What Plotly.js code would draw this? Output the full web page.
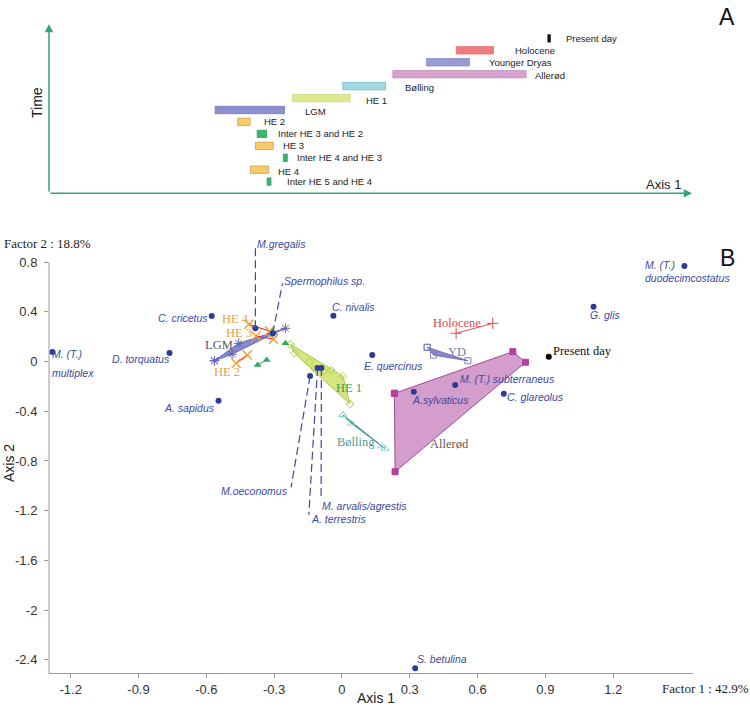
<!DOCTYPE html>
<html><head><meta charset="utf-8">
<script src="https://cdn.plot.ly/plotly-3.0.1.min.js"></script>
<style>html,body{margin:0;padding:0;background:#fff}#chart{width:750px;height:707px}</style>
</head><body><div id="chart"></div>
<script>
// ---------- Panel A : ranges of each period along Axis 1 ----------
const periods = ['Present day','Holocene','Younger Dryas','Allerød','Bølling','HE 1','LGM','HE 2',
  'Inter HE 3 and HE 2','HE 3','Inter HE 4 and HE 3','HE 4','Inter HE 5 and HE 4'];
const periodStart = [0.911, 0.506, 0.374, 0.225, 0.004, -0.218, -0.561, -0.461, -0.375, -0.383, -0.259, -0.405, -0.331];
const periodEnd   = [0.922, 0.670, 0.564, 0.815, 0.193, 0.036, -0.254, -0.406, -0.333, -0.304, -0.242, -0.324, -0.314];

// ---------- Panel B : species coordinates ----------
const species = ['M. (T.) multiplex','D. torquatus','C. cricetus','A. sapidus','M.gregalis','Spermophilus sp.',
  'C. nivalis','E. quercinus','M.oeconomus','A. terrestris','M. arvalis/agrestis','A.sylvaticus',
  'M. (T.) subterraneus','C. glareolus','G. glis','M. (T.) duodecimcostatus','S. betulina'];
const speciesX = [-1.281,-0.763,-0.576,-0.546,-0.383,-0.306,-0.038,0.134,-0.141,-0.108,-0.091,0.318,0.501,0.716,1.113,1.515,0.324];
const speciesY = [0.076,0.068,0.366,-0.315,0.267,0.227,0.368,0.052,-0.117,-0.052,-0.052,-0.243,-0.189,-0.259,0.441,0.768,-2.468];
const presentX = [0.915];
const presentY = [0.039];

// ---------- Panel B : period samples ----------
const lgmX = [-0.564,-0.486,-0.306,-0.250,-0.457];
const lgmY = [0.006,0.058,0.221,0.267,0.146];
const he1HullX = [-0.228,0.004,0.036,-0.210];
const he1HullY = [0.138,-0.117,-0.342,0.066];
const he1InnerX = [-0.144,-0.122,-0.082,-0.048];
const he1InnerY = [-0.002,-0.055,-0.076,-0.068];
const bollingX = [0.004,0.041,0.190,0.176];
const bollingY = [-0.430,-0.497,-0.700,-0.680];
const allerodX = [0.232,0.756,0.812,0.235];
const allerodY = [-0.256,0.079,-0.006,-0.887];
const ydX = [0.377,0.557,0.405];
const ydY = [0.114,0.006,0.052];
const holoceneX = [0.505,0.667];
const holoceneY = [0.227,0.307];
const he4X = [-0.412,-0.321]; const he4Y = [0.299,0.245];
const he3X = [-0.380,-0.303]; const he3Y = [0.205,0.179];
const he2X = [-0.419,-0.468]; const he2Y = [0.052,-0.014];
const inter32X = [-0.373,-0.333]; const inter32Y = [-0.028,0.012];
const inter43X = [-0.250]; const inter43Y = [0.146];
const inter54X = [-0.306]; const inter54Y = [0.240];

// ---------- ticks ----------
const xTicks = [-1.2,-0.9,-0.6,-0.3,0,0.3,0.6,0.9,1.2];
const xTickText = ['-1.2','-0.9','-0.6','-0.3','0','0.3','0.6','0.9','1.2'];
const yTicks = [0.8,0.4,0,-0.4,-0.8,-1.2,-1.6,-2,-2.4];
const yTickText = ['0.8','0.4','0','-0.4','-0.8','-1.2','-1.6','-2','-2.4'];

// ---------- styles ----------
const SANS = 'Liberation Sans, Arial, sans-serif';
const SERIF = 'Liberation Serif, Times New Roman, serif';
const barFill = ['#111111','#ef7d7d','#9b9bd3','#d8a2ce','#a2d9e4','#dfe98f','#8e8dcd','#f7cb6b',
  '#3cb46e','#f7cb6b','#3cb46e','#f7cb6b','#3cb46e'];
const barLine = ['#111111','#e07070','#8a8ac4','#c690bd','#74b8c8','#c9d67a','#7a79bd','#c9a04c',
  '#2e9a5c','#c9a04c','#2e9a5c','#c9a04c','#2e9a5c'];
const labelGap = [16,22,20,9,19,16,20,14,11,10,10,9,16];
const labelDrop = [0,0,0,1,1,2,1.5,0,0,0,0,2,0];
const speciesColor = '#2e3b94';
const speciesTextColor = '#3a4aa2';
// label placement relative to the dot, in pixels (dy positive = downward)
const labelStyle = {
  'M. (T.) multiplex': {a:'left', dx:-1, dy:2, split:true, dy2:20.7},
  'D. torquatus': {a:'right', dx:2, dy:6},
  'C. cricetus': {a:'right', dx:-3, dy:2},
  'A. sapidus': {a:'right', dx:-3, dy:7.5},
  'M.gregalis': {a:'left', dx:1, dy:-84.3, lead:[0,-80]},
  'Spermophilus sp.': {a:'left', dx:10.5, dy:-52.3, lead:[9.7,-50]},
  'C. nivalis': {a:'left', dx:-2.5, dy:-8.4},
  'E. quercinus': {a:'left', dx:-9.5, dy:11},
  'M.oeconomus': {a:'right', dx:-21, dy:114.7, lead:[-19,111.3]},
  'A. terrestris': {a:'left', dx:-7.5, dy:151, lead:[-8.7,147]},
  'M. arvalis/agrestis': {a:'left', dx:-0.5, dy:138, lead:[-0.3,132]},
  'A.sylvaticus': {a:'left', dx:-3, dy:8.3},
  'M. (T.) subterraneus': {a:'left', dx:4, dy:-5.7},
  'C. glareolus': {a:'left', dx:2.2, dy:3.6},
  'G. glis': {a:'left', dx:-5, dy:8.3},
  'M. (T.) duodecimcostatus': {a:'left', dx:-40, dy:-1, split:true, dy2:11.7},
  'S. betulina': {a:'left', dx:1, dy:-9.3}
};
const periodLabels = [
  {t:'LGM', x:-0.543, y:0.133, c:'#55556a'},
  {t:'HE 4', x:-0.471, y:0.339, c:'#e3a24a'},
  {t:'HE 3', x:-0.454, y:0.227, c:'#e3a24a'},
  {t:'HE 2', x:-0.509, y:-0.082, c:'#e3a24a'},
  {t:'HE 1', x:0.029, y:-0.213, c:'#3a9e4e'},
  {t:'Bølling', x:0.063, y:-0.650, c:'#4d9c9c'},
  {t:'Allerød', x:0.476, y:-0.664, c:'#6a5656'},
  {t:'YD', x:0.509, y:0.079, c:'#7a7aa6'},
  {t:'Holocene', x:0.510, y:0.312, c:'#e04848'}
];

const W = 750, H = 707;
const px = v => v / W;
const py = v => 1 - v / H;
const close = a => a.concat([a[0]]);

const traces = [];
// Panel A bars
traces.push({
  type:'bar', orientation:'h', xaxis:'x2', yaxis:'y2',
  y: periods.map((_, i) => i),
  x: periodEnd.map((e, i) => e - periodStart[i]),
  base: periodStart,
  width: 0.62,
  marker:{color: barFill, line:{color: barLine, width: 0.8}},
  hoverinfo:'skip'
});

function poly(x, y, fill, line, sym, msize, mcol, mfill) {
  return {type:'scatter', x: close(x), y: close(y), mode:'lines+markers', fill:'toself',
    fillcolor: fill, line:{color: line, width: 1},
    marker:{symbol: sym, size: msize, color: mfill || mcol, line:{color: mcol, width: 1}},
    hoverinfo:'skip'};
}
traces.push(poly(lgmX, lgmY, 'rgba(128,128,200,0.92)', '#6a6ab5', 'asterisk-open', 8, '#6262b6'));
traces.push(poly(he1HullX, he1HullY, '#d7e57f', '#a9c94f', 'diamond-open', 6, '#b2d158'));
traces.push({type:'scatter', x: he1InnerX, y: he1InnerY, mode:'markers',
  marker:{symbol:'diamond-open', size:6, color:'#b2d158', line:{color:'#b2d158', width:1}}, hoverinfo:'skip'});
traces.push(poly(bollingX, bollingY, '#5aa8a8', '#3e9696', 'triangle-up-open', 7, '#8fd3d3'));
traces.push(poly(allerodX, allerodY, '#d49dcc', '#a04c94', 'square', 6, '#b3409f'));
traces.push(poly(ydX, ydY, '#8a8acc', '#6c6cb0', 'square-open', 6, '#7f7fbf'));
traces.push({type:'scatter', x: holoceneX, y: holoceneY, mode:'lines+markers',
  line:{color:'#e05050', width:1},
  marker:{symbol:'cross-thin-open', size:8, color:'#e05050', line:{color:'#e05050', width:1}}, hoverinfo:'skip'});
[[he4X,he4Y],[he3X,he3Y],[he2X,he2Y]].forEach(([x,y]) => traces.push({type:'scatter', x, y,
  mode:'lines+markers', line:{color:'#e23232', width:1.2},
  marker:{symbol:'x-thin-open', size:9, color:'#f0a030', line:{color:'#f0a030', width:1.5}}, hoverinfo:'skip'}));
[[inter32X,inter32Y],[inter43X,inter43Y],[inter54X,inter54Y]].forEach(([x,y]) => traces.push({type:'scatter', x, y,
  mode:'lines+markers', line:{color:'#2eaa5e', width:1},
  marker:{symbol:'triangle-up', size:7, color:'#2eaa5e'}, hoverinfo:'skip'}));
traces.push({type:'scatter', x: speciesX, y: speciesY, mode:'markers',
  marker:{size:6, color: speciesColor}, hoverinfo:'skip'});
traces.push({type:'scatter', x: presentX, y: presentY, mode:'markers',
  marker:{size:6, color:'#000'}, hoverinfo:'skip'});

const annotations = [];
const shapes = [];
function paperText(x, y, text, font, extra) {
  return Object.assign({xref:'paper', yref:'paper', x: px(x), y: py(y), text, showarrow:false,
    xanchor:'center', yanchor:'middle', font}, extra || {});
}

// Panel A labels
periods.forEach((p, i) => annotations.push({xref:'x2', yref:'y2', x: periodEnd[i], y: i,
  xanchor:'left', yanchor:'middle', xshift: labelGap[i] - 2, yshift: -labelDrop[i], showarrow:false,
  text: p, font:{family: SANS, size: 9.5, color:'#222'}}));
// Panel A arrows
annotations.push({xref:'paper', yref:'paper', x: px(49), y: py(24), ax: 0, ay: 169, text:'',
  showarrow:true, arrowhead:2, arrowsize:1.1, arrowwidth:1.5, arrowcolor:'#35a07f', standoff:0, startstandoff:0});
annotations.push({xref:'paper', yref:'paper', x: px(692), y: py(193.3), ax: -643, ay: 0, text:'',
  showarrow:true, arrowhead:2, arrowsize:1.1, arrowwidth:1.5, arrowcolor:'#35a07f', standoff:0, startstandoff:0});
annotations.push(paperText(37, 103, 'Time', {family: SANS, size: 14, color:'#222'}, {textangle:-90}));
annotations.push(paperText(663, 184, 'Axis 1', {family: SANS, size: 13, color:'#222'}));
annotations.push(paperText(727, 17, 'A', {family: SANS, size: 23, color:'#111'}));
annotations.push(paperText(727, 258, 'B', {family: SANS, size: 23, color:'#111'}));

// Panel B axis labels
annotations.push(paperText(2, 244, 'Factor 2 : 18.8%', {family: SERIF, size: 13, color:'#222'}, {xanchor:'left'}));
annotations.push(paperText(660, 688, 'Factor 1 : 42.9%', {family: SERIF, size: 13, color:'#222'}, {xanchor:'left'}));
annotations.push(paperText(376, 698, 'Axis 1', {family: SANS, size: 14, color:'#222'}));
annotations.push(paperText(9, 463, 'Axis 2', {family: SANS, size: 14, color:'#222'}, {textangle:-90}));

// species labels and leaders
species.forEach((s, i) => {
  const st = labelStyle[s];
  const lines = st.split ? [s.slice(0, 7), s.slice(8)] : [s];
  const dys = st.split ? [st.dy, st.dy2] : [st.dy];
  lines.forEach((t, k) => annotations.push({xref:'x', yref:'y', x: speciesX[i], y: speciesY[i],
    xanchor: st.a, yanchor:'middle', xshift: st.dx, yshift: -dys[k], showarrow:false, text: t,
    borderpad:0, font:{family: SANS, size: 10.5, color: speciesTextColor, style:'italic'}}));
  if (st.lead) shapes.push({type:'line', xref:'x', yref:'y', xsizemode:'pixel', ysizemode:'pixel',
    xanchor: speciesX[i], yanchor: speciesY[i], x0: 0, y0: 0, x1: st.lead[0], y1: -st.lead[1],
    line:{color:'#3a4aa2', width:1.2, dash:'8px,4px'}});
});
// period labels
periodLabels.forEach(l => annotations.push({xref:'x', yref:'y', x: l.x, y: l.y, text: l.t, showarrow:false,
  xanchor:'center', yanchor:'middle', font:{family: SERIF, size: 12.5, color: l.c}}));
annotations.push({xref:'x', yref:'y', x: presentX[0], y: presentY[0], xanchor:'left', yanchor:'middle',
  xshift: 2, yshift: 6, text:'Present day', showarrow:false, font:{family: SERIF, size: 12.5, color:'#111'}});

// y axis line (stops at 0.8)
const XDOM = [px(49), px(693)];
const XRANGE = [-1.296, 1.553];
const YRANGE = [-2.506, 0.95];
shapes.push({type:'line', xref:'paper', yref:'y', x0: XDOM[0], x1: XDOM[0], y0: YRANGE[0], y1: 0.8,
  line:{color:'#9a9a9a', width:1}});

const layout = {
  width: W, height: H, margin:{l:0, r:0, t:0, b:0},
  paper_bgcolor:'#fff', plot_bgcolor:'rgba(0,0,0,0)',
  showlegend:false, hovermode:false, barmode:'overlay',
  xaxis:{domain: XDOM, range: XRANGE, anchor:'y', showline:true, linecolor:'#9a9a9a', linewidth:1,
    ticks:'outside', ticklen:4, tickcolor:'#9a9a9a', tickvals: xTicks, ticktext: xTickText,
    tickfont:{family: SANS, size: 13, color:'#333'}, showgrid:false, zeroline:false},
  yaxis:{domain:[34/H, 1 - (361.5 - 0.95 * 124.3) / H], range: YRANGE, anchor:'x', showline:false,
    ticks:'outside', ticklen:4, tickcolor:'#9a9a9a', tickvals: yTicks, ticktext: yTickText,
    ticklabelstandoff: 4,
    tickfont:{family: SANS, size: 13, color:'#333'}, showgrid:false, zeroline:false},
  xaxis2:{domain: XDOM, range: XRANGE, anchor:'y2', visible:false},
  yaxis2:{domain:[py(193.3), py(21.2)], range:[12.98, -1.44], anchor:'x2', visible:false},
  annotations, shapes
};
Plotly.newPlot('chart', traces, layout, {staticPlot:true});
</script>
</body></html>
